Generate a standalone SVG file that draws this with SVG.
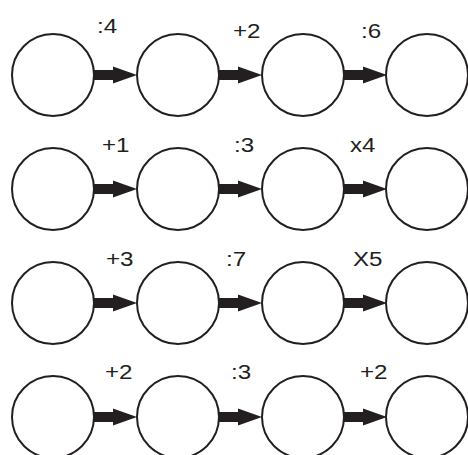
<svg xmlns="http://www.w3.org/2000/svg" xmlns:xlink="http://www.w3.org/1999/xlink" width="468" height="455" viewBox="0 0 468 455">
<style>
.n{fill:#fff;stroke:#231f20;stroke-width:2}
.a{fill:#231f20;stroke:none}
.t{font-family:"Liberation Sans",Arial,sans-serif;font-size:21px;fill:#231f20}
</style>
<defs>
<path id="arr" d="M0,-5 H19 V-8.5 L43,0 L19,8.5 V5 H0 Z"/>
</defs>
<rect width="468" height="455" fill="#fff"/>
<g id="nodes">
<g id="r1c1"><circle class="n" cx="53" cy="75" r="41"/></g>
<g id="r1c2"><circle class="n" cx="178" cy="75" r="41"/></g>
<g id="r1c3"><circle class="n" cx="303" cy="75" r="41"/></g>
<g id="r1c4"><circle class="n" cx="427" cy="75" r="41"/></g>
<g id="r2c1"><circle class="n" cx="53" cy="189" r="41"/></g>
<g id="r2c2"><circle class="n" cx="178" cy="189" r="41"/></g>
<g id="r2c3"><circle class="n" cx="303" cy="189" r="41"/></g>
<g id="r2c4"><circle class="n" cx="427" cy="189" r="41"/></g>
<g id="r3c1"><circle class="n" cx="53" cy="303" r="41"/></g>
<g id="r3c2"><circle class="n" cx="178" cy="303" r="41"/></g>
<g id="r3c3"><circle class="n" cx="303" cy="303" r="41"/></g>
<g id="r3c4"><circle class="n" cx="427" cy="303" r="41"/></g>
<g id="r4c1"><circle class="n" cx="53" cy="417" r="41"/></g>
<g id="r4c2"><circle class="n" cx="178" cy="417" r="41"/></g>
<g id="r4c3"><circle class="n" cx="303" cy="417" r="41"/></g>
<g id="r4c4"><circle class="n" cx="427" cy="417" r="41"/></g>
</g>
<g id="connectors" class="a">
<use xlink:href="#arr" x="94" y="75"/>
<use xlink:href="#arr" x="219" y="75"/>
<use xlink:href="#arr" x="344" y="75"/>
<use xlink:href="#arr" x="94" y="189"/>
<use xlink:href="#arr" x="219" y="189"/>
<use xlink:href="#arr" x="344" y="189"/>
<use xlink:href="#arr" x="94" y="303"/>
<use xlink:href="#arr" x="219" y="303"/>
<use xlink:href="#arr" x="344" y="303"/>
<use xlink:href="#arr" x="94" y="417"/>
<use xlink:href="#arr" x="219" y="417"/>
<use xlink:href="#arr" x="344" y="417"/>
</g>
<g id="labels" class="t">
<text transform="matrix(1.15 0 0 1 97 33)">:4</text>
<text transform="matrix(1.15 0 0 1 233 38)">+2</text>
<text transform="matrix(1.15 0 0 1 361 38)">:6</text>
<text transform="matrix(1.15 0 0 1 102 152)">+1</text>
<text transform="matrix(1.15 0 0 1 234 152)">:3</text>
<text transform="matrix(1.15 0 0 1 350 152)">x4</text>
<text transform="matrix(1.15 0 0 1 106 266)">+3</text>
<text transform="matrix(1.15 0 0 1 226 266)">:7</text>
<text transform="matrix(1.15 0 0 1 353 266)">X5</text>
<text transform="matrix(1.15 0 0 1 105 379)">+2</text>
<text transform="matrix(1.15 0 0 1 231 379)">:3</text>
<text transform="matrix(1.15 0 0 1 360 379)">+2</text>
</g>
</svg>
